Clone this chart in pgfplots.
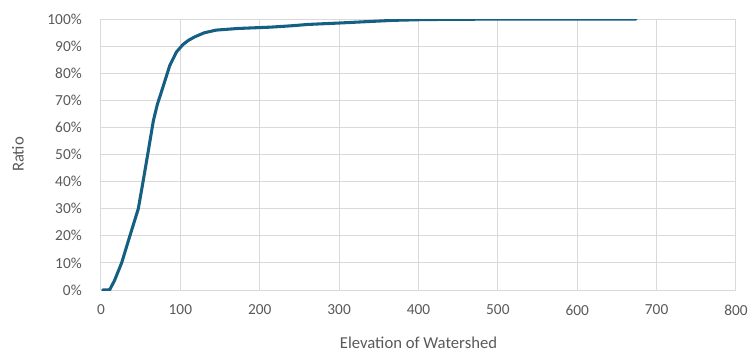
\documentclass[border=0pt]{standalone}
\usepackage{fontspec}
\setmainfont{Carlito}
\usepackage{pgfplots}
\pgfplotsset{compat=1.18}
\definecolor{linec}{HTML}{156082}
\definecolor{gridc}{HTML}{D9D9D9}
\definecolor{textc}{HTML}{595959}
\begin{document}
\begin{tikzpicture}
\useasboundingbox (-75.75pt,-48.75pt) rectangle (486.75pt,217.5pt);
\begin{axis}[
  scale only axis,
  width=476.25pt, height=203.25pt,
  xmin=0, xmax=800, ymin=0, ymax=100,
  xtick={0,100,...,800},
  ytick={0,10,...,100},
  yticklabel={\pgfmathprintnumber{\tick}\%},
  /pgf/number format/assume math mode=true,
  grid=major,
  major grid style={gridc, line width=0.75pt},
  axis line style={draw=none},
  major tick length=0pt,
  tick label style={font=\fontsize{11.5}{13}\selectfont, text=textc},
  xticklabel style={anchor=center, inner sep=0pt, yshift=-15pt},
  yticklabel style={anchor=east, inner sep=0pt, xshift=-14.25pt},
  xlabel={Elevation of Watershed},
  ylabel={Ratio},
  label style={font=\fontsize{12.5}{14}\selectfont, text=textc},
  xlabel style={at={(axis description cs:0.5,-0.1956)}, anchor=center},
  ylabel style={at={(axis description cs:-0.1307,0.5)}, anchor=center, rotate=0},
]
\addplot[linec, line width=2.3pt, line join=round, line cap=round] coordinates {
(2,0) (11,0.1) (17,3.5) (26,10) (36,19.6) (47,30) (53,40) (59,50.3)
(66,62.5) (71,68.5) (76,73) (86.6,82.8) (95,87.8) (103,90.5) (110,92.1)
(118,93.4) (130,94.9) (145,95.9) (172,96.5) (214,97) (240,97.5) (261,98)
(299,98.5) (333,99) (368,99.5) (408,99.8) (511,100) (674,100)
};
\end{axis}
\end{tikzpicture}
\end{document}
